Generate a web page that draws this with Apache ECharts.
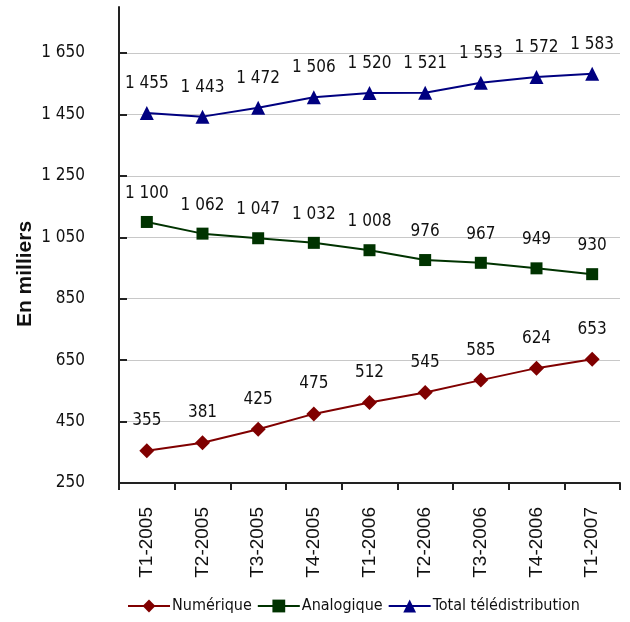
<!DOCTYPE html>
<html><head><meta charset="utf-8">
<script src="https://cdn.jsdelivr.net/npm/echarts@6/dist/echarts.min.js"></script>
<style>html,body{margin:0;padding:0;background:#fff}#c{width:630px;height:622px}</style>
</head><body><div id="c"></div>
<script>
const categories = ['T1-2005','T2-2005','T3-2005','T4-2005','T1-2006','T2-2006','T3-2006','T4-2006','T1-2007'];
const numerique = [355,381,425,475,512,545,585,624,653];
const analogique = [1100,1062,1047,1032,1008,976,967,949,930];
const total = [1455,1443,1472,1506,1520,1521,1553,1572,1583];
const yMin = 250, yMax = 1800, yStep = 200;
const yTitle = 'En milliers';

const narrow = '"Liberation Sans Narrow", "DejaVu Sans Condensed", "Liberation Sans", Arial, sans-serif';
function fmtS(v){ return String(v).replace(/\B(?=(\d{3})+(?!\d))/g, ' '); }

const labelCfg = {show:true, position:'top', distance:14, color:'#111', fontFamily:narrow, fontSize:17, formatter:p=>fmtS(p.value)};

// one colour per split line: visible for the ticks, invisible for the axis top (max)
const nLines = Math.floor((yMax - yMin) / yStep) + 2;
const splitColors = Array.from({length:nLines}, (_, i) => i === nLines - 1 ? 'rgba(0,0,0,0)' : '#c8c8c8');

const chart = echarts.init(document.getElementById('c'), null, {renderer:'canvas'});
chart.setOption({
  backgroundColor:'#fff',
  animation:false,
  grid:{left:119, right:10, top:7, bottom:139, containLabel:false},
  legend:{
    data:['Numérique','Analogique','Total télédistribution'],
    bottom:3, left:122, itemWidth:42, itemHeight:16, itemGap:5,
    textStyle:{fontFamily:narrow, fontSize:16, color:'#111', padding:[0,0,0,-3]}
  },
  graphic:[{
    type:'text', x:25, y:274, rotation:Math.PI/2,
    style:{text:yTitle, fontFamily:'"Liberation Sans", Arial, sans-serif', fontWeight:'bold', fontSize:21, fill:'#111', textAlign:'center', textVerticalAlign:'middle'}
  }],
  xAxis:{
    type:'category', data:categories, boundaryGap:true,
    axisLine:{lineStyle:{color:'#222', width:2}},
    axisTick:{show:true, inside:false, length:7, lineStyle:{color:'#222', width:2}},
    axisLabel:{rotate:90, fontFamily:'"Liberation Sans", Arial, sans-serif', fontSize:19, color:'#111', margin:24}
  },
  yAxis:{
    type:'value', min:yMin, max:yMax, interval:yStep,
    axisLine:{show:true, lineStyle:{color:'#222', width:2}},
    axisTick:{show:true, inside:true, length:8, lineStyle:{color:'#222', width:2}},
    axisLabel:{showMaxLabel:false, fontFamily:narrow, fontSize:17, color:'#111', margin:34, formatter:v=>fmtS(v)},
    splitLine:{show:true, lineStyle:{color:splitColors, width:1}}
  },
  series:[
    {name:'Numérique', type:'line', data:numerique, symbol:'diamond', symbolSize:15,
     itemStyle:{color:'#800000'}, lineStyle:{color:'#800000', width:2}, label:labelCfg},
    {name:'Analogique', type:'line', data:analogique, symbol:'rect', symbolSize:12,
     itemStyle:{color:'#003300'}, lineStyle:{color:'#003300', width:2}, label:labelCfg},
    {name:'Total télédistribution', type:'line', data:total, symbol:'triangle', symbolSize:14,
     itemStyle:{color:'#000080'}, lineStyle:{color:'#000080', width:2}, label:labelCfg}
  ]
});
</script></body></html>
